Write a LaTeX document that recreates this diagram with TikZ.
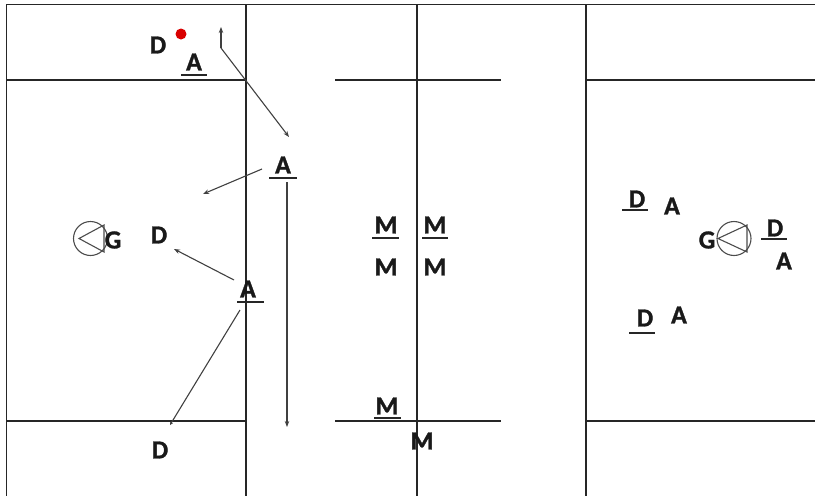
\documentclass[tikz,border=0pt]{standalone}
\usepackage{fontspec}
\setmainfont{Carlito}[BoldFeatures={FakeBold=1.2}]
\usetikzlibrary{arrows.meta}
\tikzset{
  wall/.style={line width=1.6pt, draw=black!85},
  lbl/.style={inner sep=0pt, text=black!90, font=\fontsize{26}{29}\selectfont\bfseries},
  uline/.style={line width=1.4pt, draw=black!85},
  move/.style={line width=1.1pt, draw=black!75, -{Stealth[length=6pt,width=4.5pt]}},
  pump/.style={circle, draw=black!70, line width=1.1pt, minimum size=34pt, inner sep=0pt},
  pumptri/.style={line width=1.1pt, draw=black!70, line join=miter},
  dot/.style={circle, fill=red!85!black, minimum size=11pt, inner sep=0pt}
}
\begin{document}
\begin{tikzpicture}[x=1pt, y=-1pt]
\useasboundingbox (0,0) rectangle (815,496);

% hall outline and walls
\draw[wall] (815,4.5) -- (6.5,4.5) -- (6.5,496);
\draw[wall] (6.5,80) -- (246,80);
\draw[wall] (6.5,421) -- (246,421);
\draw[wall] (246,4.5) -- (246,496);
\draw[wall] (417,4.5) -- (417,496);
\draw[wall] (586,4.5) -- (586,496);
\draw[wall] (335,80) -- (501,80);
\draw[wall] (335,421) -- (501,421);
\draw[wall] (586,80) -- (815,80);
\draw[wall] (586,421) -- (815,421);

% left side
\node[lbl] (d1) at (158,45) {D};
\node[dot] (ball) at (181,34) {};
\node[lbl] (a1) at (194,62) {A};
\draw[uline] (181,75) -- (207,75);

\node[lbl] (a2) at (283,165) {A};
\draw[uline] (269,178) -- (297,178);

\node[pump] (p1) at (90.5,238.5) {};
\draw[pumptri] (p1.center) ++(-11.5,0) -- ++(25,-13.5) -- ++(0,27) -- cycle;
\node[lbl] (g1) at (113,240) {G};
\node[lbl] (d2) at (159,235) {D};

\node[lbl] (a3) at (248,289) {A};
\draw[uline] (237,302) -- (264,302);

\node[lbl] (d3) at (160,450) {D};

% movement arrows
\coordinate (k0) at (221,48);
\coordinate (k1) at (221,27);
\coordinate (k2) at (289,137);
\draw[move] (k0) -- (k1);
\draw[move] (k0) -- (k2);

\coordinate (r0) at (262,169);
\coordinate (r1) at (203,194);
\draw[move] (r0) -- (r1);

\coordinate (s0) at (287,182);
\coordinate (s1) at (287,427);
\draw[move] (s0) -- (s1);

\coordinate (t0) at (234,280);
\coordinate (t1) at (174,249);
\draw[move] (t0) -- (t1);

\coordinate (u0) at (240,310);
\coordinate (u1) at (170,425);
\draw[move, -{Stealth[length=3pt,width=3pt]}] (u0) -- (u1);

% middle
\node[lbl] (m1) at (386,225) {M};
\draw[uline] (372,238) -- (399,238);
\node[lbl] (m2) at (435,225) {M};
\draw[uline] (422,238) -- (448,238);
\node[lbl] (m3) at (386,267) {M};
\node[lbl] (m4) at (435,267) {M};
\node[lbl] (m5) at (387,406) {M};
\draw[uline] (374,418) -- (401,418);
\node[lbl] (m6) at (422,441) {M};

% right side
\node[lbl] (d4) at (637,199) {D};
\draw[uline] (622,210) -- (648,210);
\node[lbl] (a4) at (672,206) {A};

\node[pump] (p2) at (734,238.5) {};
\draw[pumptri] (p2.center) ++(-16,0) -- ++(29,-13.5) -- ++(0,27) -- cycle;
\node[lbl] (g2) at (707,240) {G};
\node[lbl] (d5) at (775,228) {D};
\draw[uline] (761,239) -- (787,239);
\node[lbl] (a5) at (784,261) {A};

\node[lbl] (d6) at (645,318) {D};
\draw[uline] (629,333) -- (655,333);
\node[lbl] (a6) at (679,315) {A};
\end{tikzpicture}
\end{document}
